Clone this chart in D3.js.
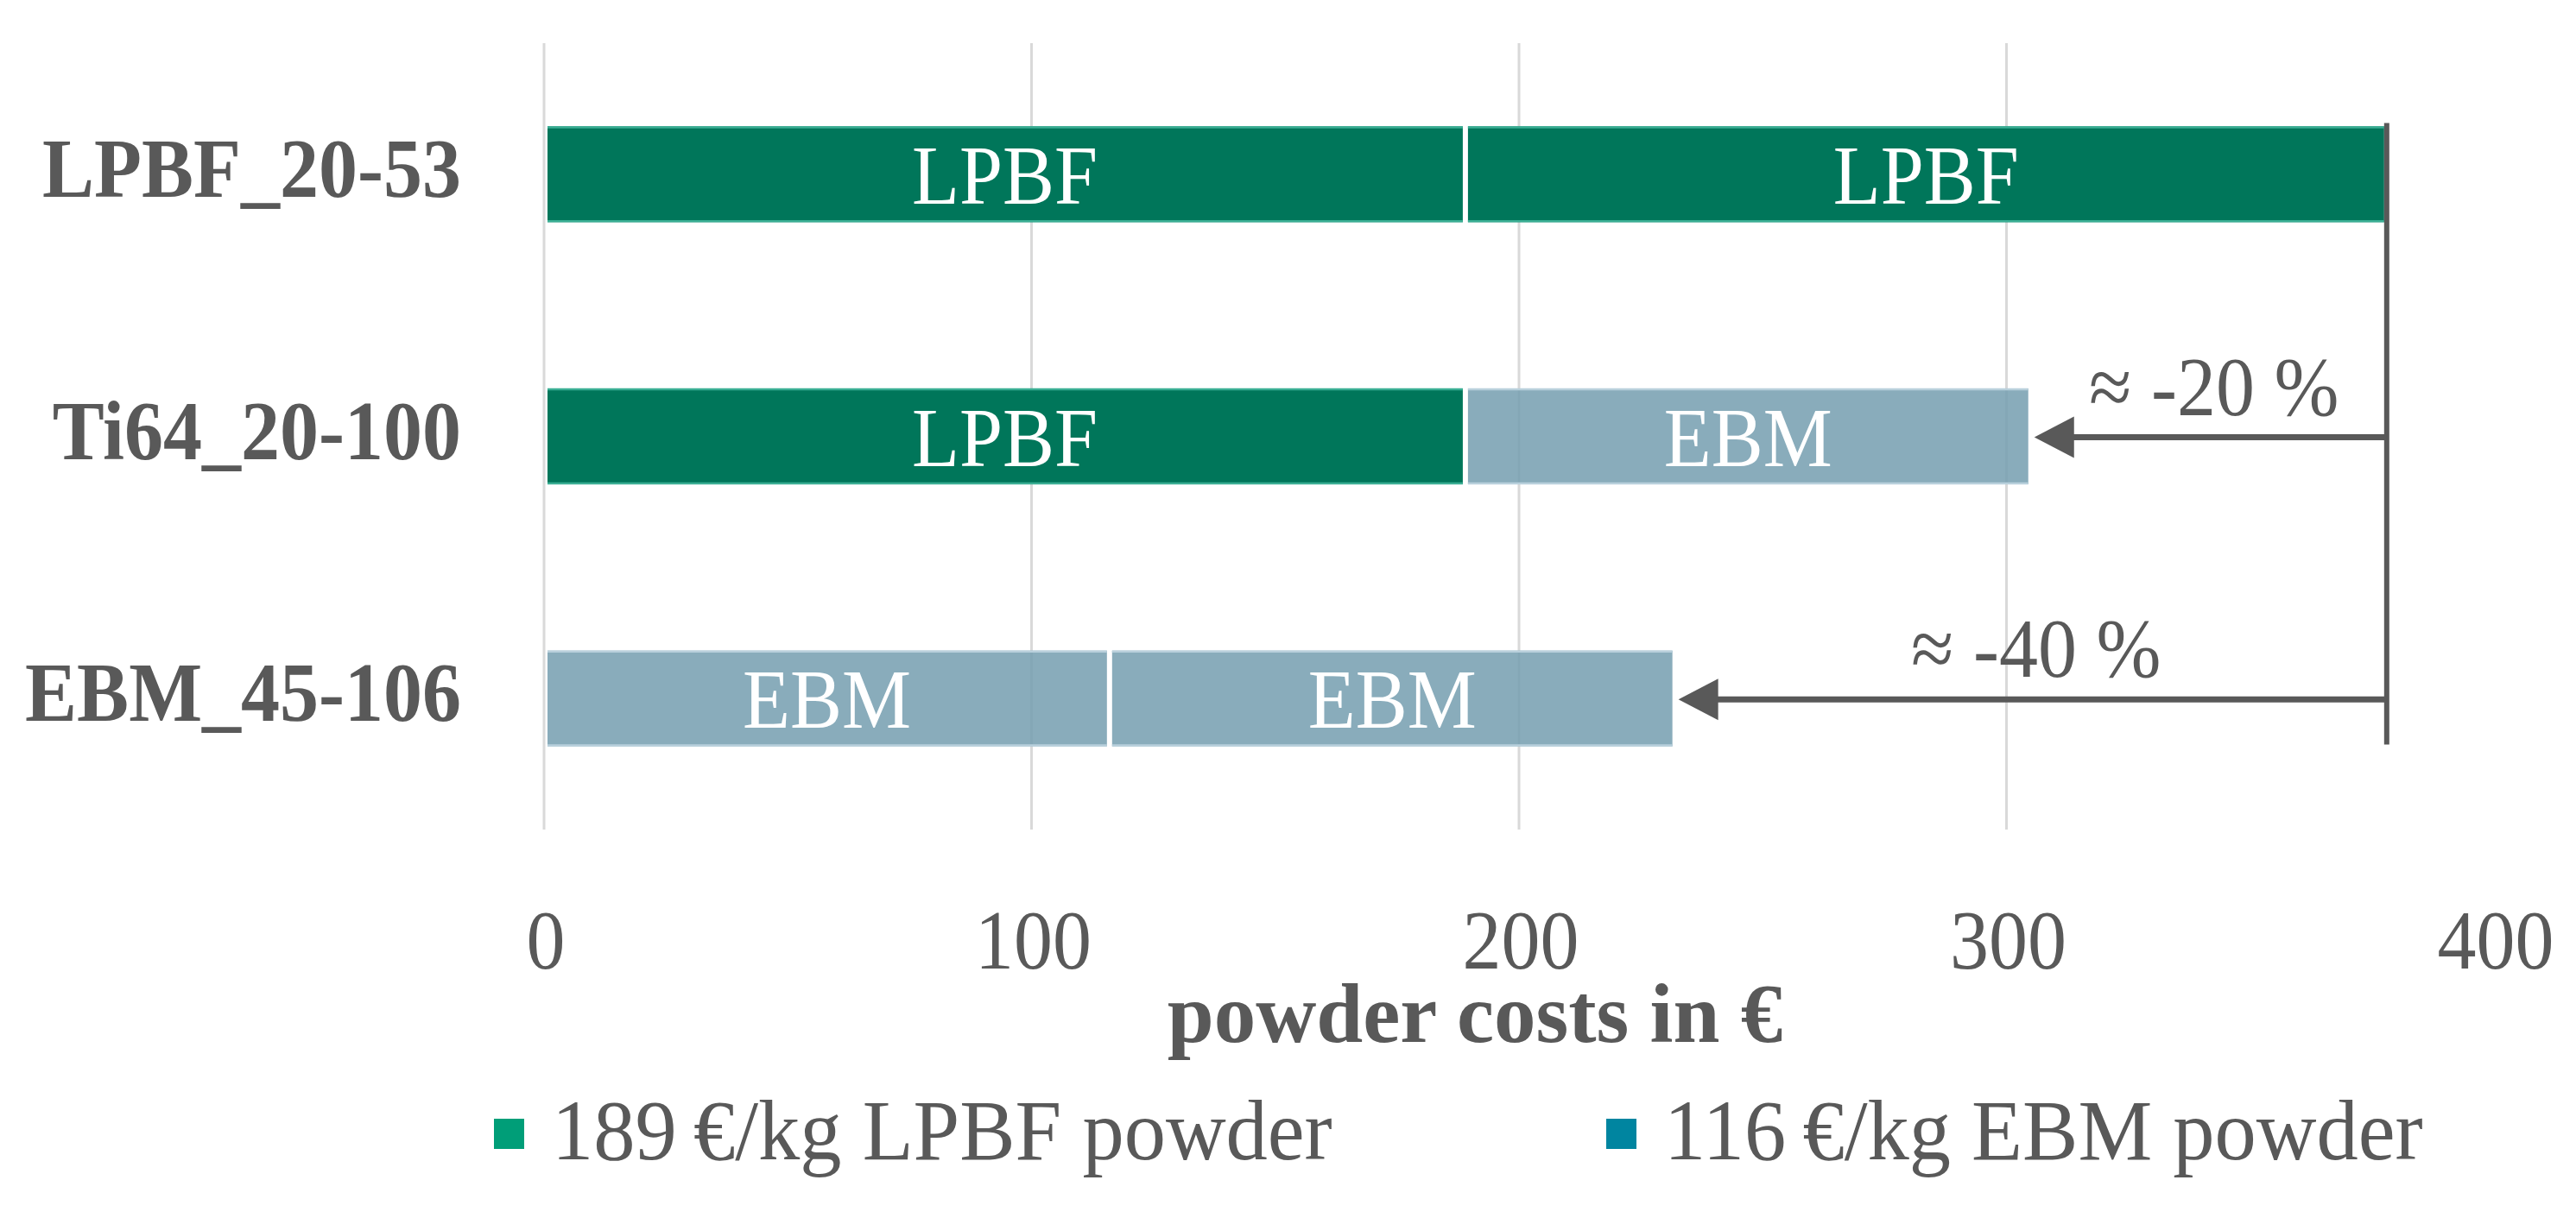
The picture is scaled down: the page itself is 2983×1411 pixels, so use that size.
<!DOCTYPE html>
<html>
<head>
<meta charset="utf-8">
<script src="https://cdn.jsdelivr.net/npm/d3@7"></script>
<style>
  html, body { margin: 0; padding: 0; background: #fff; }
  svg { display: block; }
  text { font-family: "Liberation Serif", "DejaVu Serif", serif; }
</style>
</head>
<body>
<svg id="chart" width="2983" height="1411"></svg>
<script>
// ---- data ----
const categories = ["LPBF_20-53", "Ti64_20-100", "EBM_45-106"];
const firstPartType = ["LPBF", "LPBF", "EBM"];
const firstPartValue = [189, 189, 116];
const secondPartType = ["LPBF", "EBM", "EBM"];
const secondPartValue = [189, 116, 116];
const reductionLabels = [null, "≈ -20 %", "≈ -40 %"];
const xTicks = [0, 100, 200, 300, 400];
const legendLabels = ["189\u2009€/kg LPBF powder", "116\u2009€/kg EBM powder"];
const legendTypes = ["LPBF", "EBM"];
const axisTitle = "powder costs in €";

// ---- styles ----
const textColor = "#595959";
const barFill = { LPBF: "#00765a", EBM: "#769eb0" };
const barEdge = { LPBF: "#3aae94", EBM: "#b9d0dc" };
const barOpacity = { LPBF: 1, EBM: 0.86 };
const legendFill = { LPBF: "#009e78", EBM: "#0085a0" };
const fontSize = 90;
const yStretch = 1.08;

const svg = d3.select("#chart");
const x = d3.scaleLinear().domain([0, 400]).range([630, 2888]);
const y = d3.scaleBand().domain(categories).range([50, 961]).paddingInner(0.635).paddingOuter(0.3175);

function stretchedText(sel, tx, ty, s) {
  return sel.attr("transform", `translate(${tx},${ty}) scale(1,${s === undefined ? yStretch : s})`);
}

// gridlines
svg.append("g").selectAll("line")
  .data(xTicks.filter(t => t < 400))
  .join("line")
  .attr("x1", d => x(d)).attr("x2", d => x(d))
  .attr("y1", 50).attr("y2", 961)
  .attr("stroke", "#d9d9d9").attr("stroke-width", 3);

// bars
const segs = [];
categories.forEach((c, i) => {
  segs.push({ cat: c, type: firstPartType[i], x0: 0, x1: firstPartValue[i] });
  segs.push({ cat: c, type: secondPartType[i], x0: firstPartValue[i], x1: firstPartValue[i] + secondPartValue[i] });
});
const gap = 3;
const left = d => x(d.x0) + (d.x0 === 0 ? 4 : gap);
const right = d => x(d.x1) - gap;
const bg = svg.append("g");
bg.selectAll("rect")
  .data(segs)
  .join("rect")
  .attr("x", left)
  .attr("width", d => right(d) - left(d))
  .attr("y", d => y(d.cat))
  .attr("height", y.bandwidth())
  .attr("fill", d => barFill[d.type])
  .attr("fill-opacity", d => barOpacity[d.type]);
// light top / bottom edges
["top", "bottom"].forEach(side => {
  bg.append("g").selectAll("line")
    .data(segs)
    .join("line")
    .attr("x1", left).attr("x2", right)
    .attr("y1", d => side === "top" ? y(d.cat) + 1 : y(d.cat) + y.bandwidth() - 1)
    .attr("y2", d => side === "top" ? y(d.cat) + 1 : y(d.cat) + y.bandwidth() - 1)
    .attr("stroke", d => barEdge[d.type]).attr("stroke-width", 2.5);
});

// bar labels
svg.append("g").selectAll("text")
  .data(segs)
  .join("text")
  .each(function(d) {
    stretchedText(d3.select(this), (x(d.x0) + x(d.x1)) / 2, y(d.cat) + y.bandwidth() / 2 + 34);
  })
  .attr("text-anchor", "middle")
  .attr("fill", "#fff")
  .attr("font-size", fontSize)
  .text(d => d.type);

// category labels
svg.append("g").selectAll("text")
  .data(categories)
  .join("text")
  .each(function(d) {
    stretchedText(d3.select(this), 534, y(d) + y.bandwidth() / 2 + 26);
  })
  .attr("text-anchor", "end")
  .attr("fill", textColor)
  .attr("font-weight", "bold")
  .attr("font-size", fontSize)
  .text(d => d);

// x tick labels
svg.append("g").selectAll("text")
  .data(xTicks)
  .join("text")
  .each(function(d) { stretchedText(d3.select(this), x(d) + 2, 1122); })
  .attr("text-anchor", "middle")
  .attr("fill", textColor)
  .attr("font-size", fontSize)
  .text(d => d);

// axis title
stretchedText(svg.append("text"), 1708, 1207, 1.0)
  .attr("text-anchor", "middle")
  .attr("fill", textColor)
  .attr("font-weight", "bold")
  .attr("font-size", 97)
  .text(axisTitle);

// reduction annotations
const total0 = firstPartValue[0] + secondPartValue[0];
const lineX = x(total0);
svg.append("line")
  .attr("x1", lineX).attr("x2", lineX)
  .attr("y1", y(categories[0]) - 4)
  .attr("y2", y(categories[2]) + y.bandwidth() - 2)
  .attr("stroke", textColor).attr("stroke-width", 6);

const ann = categories.map((c, i) => ({ cat: c, label: reductionLabels[i], end: firstPartValue[i] + secondPartValue[i] }))
  .filter(d => d.label);
const ag = svg.append("g");
ann.forEach(d => {
  const yy = y(d.cat) + y.bandwidth() / 2 + 1;
  const tip = x(d.end) + 4;
  const headLen = 46, headHalf = 24;
  ag.append("line")
    .attr("x1", lineX).attr("x2", tip + headLen - 4)
    .attr("y1", yy).attr("y2", yy)
    .attr("stroke", textColor).attr("stroke-width", 7);
  ag.append("path")
    .attr("d", `M${tip},${yy} L${tip + headLen},${yy - headHalf} L${tip + headLen},${yy + headHalf} Z`)
    .attr("fill", textColor);
  stretchedText(ag.append("text"), (tip + lineX) / 2 + 4, yy - 26)
    .attr("text-anchor", "middle")
    .attr("fill", textColor)
    .attr("font-size", fontSize)
    .text(d.label);
});

// legend
const legendX = [572, 1860];
const lg = svg.append("g");
legendLabels.forEach((lab, i) => {
  lg.append("rect")
    .attr("x", legendX[i]).attr("y", 1296)
    .attr("width", 35).attr("height", 35)
    .attr("fill", legendFill[legendTypes[i]]);
  stretchedText(lg.append("text"), legendX[i] + 67, 1343, 1.03)
    .attr("fill", textColor)
    .attr("font-size", 96.5)
    .text(lab);
});
</script>
</body>
</html>
